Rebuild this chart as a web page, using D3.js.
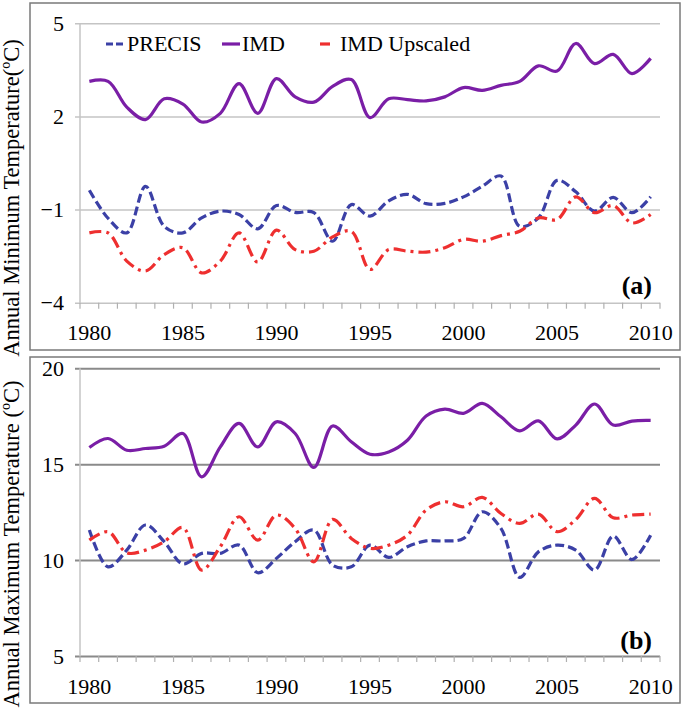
<!DOCTYPE html>
<html>
<head>
<meta charset="utf-8">
<script src="https://cdn.jsdelivr.net/npm/d3@7"></script>
<style>
  body { margin: 0; background: #fff; }
</style>
</head>
<body>
<div class="main_content"></div>
<script>
// years 1980..2010
const years = d3.range(1980, 2011);
const labelYears = [1980, 1985, 1990, 1995, 2000, 2005, 2010];

// (a) annual minimum temperature
const minPrecis = [-0.38, -1.28, -1.75, -0.25, -1.54, -1.75, -1.27, -1.05, -1.16, -1.62,
  -0.87, -1.09, -1.10, -2.02, -0.84, -1.21, -0.72, -0.51, -0.81, -0.80,
  -0.59, -0.25, 0.08, -1.54, -1.27, -0.06, -0.43, -1.05, -0.61, -1.10, -0.59];
const minImd = [3.13, 3.13, 2.30, 1.90, 2.57, 2.40, 1.82, 2.10, 3.06, 2.10,
  3.22, 2.63, 2.46, 2.97, 3.19, 1.96, 2.57, 2.54, 2.50, 2.63,
  2.93, 2.84, 3.00, 3.13, 3.63, 3.46, 4.35, 3.70, 4.00, 3.38, 3.87];
const minUpscaled = [-1.75, -1.75, -2.66, -2.98, -2.45, -2.23, -3.04, -2.66, -1.75, -2.69,
  -1.66, -2.29, -2.34, -1.88, -1.70, -2.93, -2.29, -2.34, -2.37, -2.23,
  -1.96, -2.02, -1.84, -1.70, -1.27, -1.32, -0.59, -1.10, -0.87, -1.43, -1.16];

// (b) annual maximum temperature
const maxPrecis = [11.57, 9.65, 10.52, 11.83, 10.96, 9.80, 10.35, 10.35, 10.78, 9.34,
  10.09, 10.96, 11.57, 9.74, 9.65, 10.78, 10.14, 10.70, 11.00, 11.00,
  11.13, 12.52, 11.65, 9.10, 10.43, 10.78, 10.52, 9.48, 11.25, 10.03, 11.30];
const maxImd = [15.87, 16.34, 15.73, 15.82, 15.94, 16.60, 14.34, 15.90, 17.13, 15.90,
  17.21, 16.60, 14.83, 16.99, 16.17, 15.52, 15.64, 16.25, 17.51, 17.87,
  17.65, 18.17, 17.47, 16.74, 17.26, 16.32, 17.04, 18.14, 17.04, 17.25, 17.28];
const maxUpscaled = [11.04, 11.48, 10.38, 10.52, 10.96, 11.70, 9.48, 10.70, 12.26, 11.04,
  12.35, 11.65, 9.91, 12.12, 11.13, 10.61, 10.78, 11.30, 12.61, 13.04,
  12.78, 13.27, 12.43, 11.91, 12.40, 11.48, 12.12, 13.22, 12.21, 12.35, 12.40];

const seriesNames = ["PRECIS", "IMD", "IMD Upscaled"];
const seriesColors = ["#3b40a6", "#7a1ea6", "#ee2f2f"];
const seriesDash = ["9,4", null, "12,5,3,5"];

const FONT = "'Liberation Serif', 'Times New Roman', 'DejaVu Serif', serif";

const W = 685, H = 708;
const svg = d3.select(".main_content").append("svg")
  .attr("width", W).attr("height", H)
  .attr("font-family", FONT)
  .style("font-family", FONT);

const panels = [
  { top: 3, bottom: 350, yDomain: [-4, 5], yTicks: [-4, -1, 2, 5], yRange: [302.7, 23.3],
    gridColor: "#c4c4c4", gridWidth: 1.5, tag: "(a)", titleY: 198,
    title: "Annual Minimum Temperature(\u00baC)",
    data: [minPrecis, minImd, minUpscaled], legend: true },
  { top: 357, bottom: 703, yDomain: [5, 20], yTicks: [5, 10, 15, 20], yRange: [656, 368.3],
    gridColor: "#8a8a8a", gridWidth: 2, tag: "(b)", titleY: 544,
    title: "Annual Maximum Temperature (\u00baC)",
    data: [maxPrecis, maxImd, maxUpscaled], legend: false }
];

const x = d3.scaleBand().domain(years).range([80, 660]).paddingInner(0).paddingOuter(0);
const xc = d => x(d) + x.bandwidth() / 2;

panels.forEach(p => {
  const g = svg.append("g");
  const y = d3.scaleLinear().domain(p.yDomain).range(p.yRange);

  // frame
  g.append("rect")
    .attr("x", 30).attr("y", p.top)
    .attr("width", 650).attr("height", p.bottom - p.top)
    .style("fill", "none").style("stroke", "#7a7a7a").style("stroke-width", 1.5);

  // y title
  g.append("text")
    .attr("transform", `translate(19,${p.titleY}) rotate(-90)`)
    .attr("text-anchor", "middle")
    .style("font-family", FONT)
    .style("font-size", "22.5px")
    .text(p.title);

  // gridlines + y labels
  const yAxis = g.append("g").attr("transform", "translate(75,0)")
    .call(d3.axisLeft(y).tickValues(p.yTicks).tickSize(-585).tickPadding(11).tickFormat(d3.format("d")));
  yAxis.attr("font-family", FONT);
  yAxis.select(".domain").remove();
  yAxis.selectAll("line").style("stroke", p.gridColor).style("stroke-width", p.gridWidth);
  yAxis.selectAll("text").style("font-size", "22px").style("font-family", FONT).style("fill", "#000");

  // vertical axis line
  g.append("line")
    .attr("x1", 80).attr("x2", 80).attr("y1", p.yRange[1]).attr("y2", p.yRange[0])
    .style("stroke", "#c4c4c4").style("stroke-width", 1.5);

  // x axis: boundary ticks
  const base = p.yRange[0];
  const bounds = years.map(d => x(d)).concat([x.range()[1]]);
  g.selectAll(".xtick").data(bounds).enter().append("line")
    .attr("x1", d => d).attr("x2", d => d)
    .attr("y1", base).attr("y2", base + 6)
    .style("stroke", "#b0b0b0").style("stroke-width", 1.2);

  const xAxis = g.append("g").attr("transform", `translate(0,${base})`)
    .call(d3.axisBottom(x).tickValues(labelYears).tickSize(0).tickPadding(22));
  xAxis.attr("font-family", FONT);
  xAxis.select(".domain").remove();
  xAxis.selectAll("text").style("font-size", "22px").style("font-family", FONT).style("fill", "#000");

  // series
  const line = d3.line()
    .x((d, i) => xc(years[i]))
    .y(d => y(d))
    .curve(d3.curveCatmullRom.alpha(0.5));

  [0, 2, 1].forEach(si => {
    g.append("path")
      .datum(p.data[si])
      .attr("d", line)
      .style("fill", "none")
      .style("stroke", seriesColors[si])
      .style("stroke-width", 3.2)
      .style("stroke-dasharray", seriesDash[si]);
  });

  // panel tag
  g.append("text")
    .attr("x", 652).attr("y", p.tag === "(a)" ? 294 : 649)
    .attr("text-anchor", "end")
    .style("font-family", FONT)
    .style("font-size", "26px").style("font-weight", "bold")
    .text(p.tag);

  if (p.legend) {
    const legendItems = [
      { sx: 106, ex: 125, tx: 127 },
      { sx: 222, ex: 240, tx: 242 },
      { sx: 320, ex: 330, tx: 340 }
    ];
    legendItems.forEach((it, i) => {
      g.append("line")
        .attr("x1", it.sx).attr("x2", it.ex).attr("y1", 44).attr("y2", 44)
        .style("stroke", seriesColors[i]).style("stroke-width", 3.2)
        .style("stroke-dasharray", i === 0 ? "7,3" : null);
      g.append("text")
        .attr("x", it.tx).attr("y", 51)
        .style("font-family", FONT)
        .style("font-size", "22px")
        .text(seriesNames[i]);
    });
  }
});
</script>
</body>
</html>
